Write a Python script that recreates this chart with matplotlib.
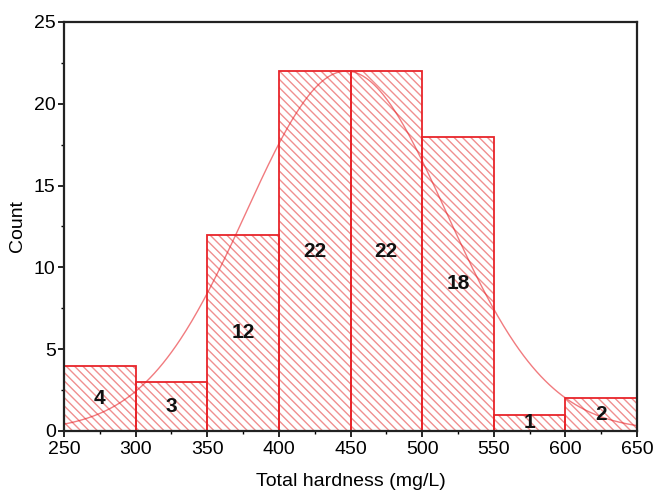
import numpy as np
import matplotlib.pyplot as plt
from matplotlib.ticker import MultipleLocator

# histograma da dureza total
bin_edges = [250, 300, 350, 400, 450, 500, 550, 600, 650]
counts = [4, 3, 12, 22, 22, 18, 1, 2]

# parâmetros da curva normal ajustada
curve_mean = 447
curve_std = 70
curve_peak = 22

x_ticks = [250, 300, 350, 400, 450, 500, 550, 600, 650]
y_ticks = [0, 5, 10, 15, 20, 25]


def main():
    plt.rcParams["font.family"] = ["Liberation Sans", "DejaVu Sans"]
    plt.rcParams["hatch.linewidth"] = 1.0

    fig = plt.figure(figsize=(6.56, 4.91), dpi=100)
    ax = fig.add_axes([0.0976, 0.1222, 0.8735, 0.8330])

    lefts = np.array(bin_edges[:-1])
    widths = np.diff(bin_edges)
    # hachura clara por baixo, contorno vermelho por cima
    ax.bar(lefts, counts, width=widths, align="edge",
           facecolor="white", edgecolor="#f08f8f", linewidth=0,
           hatch="\\" * 4, zorder=2)
    ax.bar(lefts, counts, width=widths, align="edge",
           fill=False, edgecolor="#e8242a", linewidth=1.3, zorder=3)

    for left, w, c in zip(lefts, widths, counts):
        ax.text(left + w / 2, c / 2, str(c), ha="center", va="center",
                fontsize=15, fontweight="bold", color="#111111", zorder=4)

    xs = np.linspace(bin_edges[0], bin_edges[-1], 400)
    ys = curve_peak * np.exp(-0.5 * ((xs - curve_mean) / curve_std) ** 2)
    ax.plot(xs, ys, color="#e8242a", linewidth=1.0, alpha=0.6, zorder=3)

    ax.set_xlim(bin_edges[0], bin_edges[-1])
    ax.set_ylim(0, 25)
    ax.set_xticks(x_ticks)
    ax.set_yticks(y_ticks)
    ax.xaxis.set_minor_locator(MultipleLocator(25))
    ax.yaxis.set_minor_locator(MultipleLocator(2.5))
    ax.tick_params(which="major", direction="out", length=4, width=1.2,
                   labelsize=14, pad=2)
    ax.tick_params(axis="x", which="major", pad=3)
    ax.tick_params(which="minor", direction="out", length=2, width=1.0)
    for spine in ax.spines.values():
        spine.set_linewidth(1.6)
        spine.set_color("#222222")
        spine.set_zorder(5)

    ax.set_xlabel("Total hardness (mg/L)", fontsize=14, labelpad=11)
    ax.set_ylabel("Count", fontsize=14, labelpad=6)

    fig.savefig("out.png", dpi=100)
    plt.close(fig)


if __name__ == "__main__":
    main()
